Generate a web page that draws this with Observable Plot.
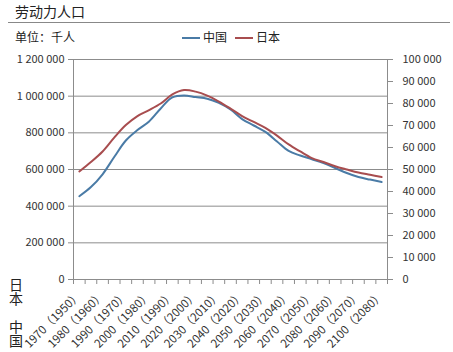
<!DOCTYPE html>
<html><head><meta charset="utf-8">
<script src="https://cdn.jsdelivr.net/npm/d3@7"></script>
<script src="https://cdn.jsdelivr.net/npm/@observablehq/plot@0.6"></script>
<style>
body{margin:0;background:#fff;font-family:"Noto Sans CJK SC","Noto Sans",sans-serif;}
#wrap{position:relative;width:453px;height:352px;overflow:hidden;background:#fff;}
.abs{position:absolute;white-space:nowrap;color:#222;line-height:1;}
</style></head><body><div id="wrap"></div>
<script>
const title = "劳动力人口";
const unitLabel = "单位：千人";
const seriesNames = ["中国", "日本"];
const seriesColors = ["#4a7ba6", "#a84d4f"];
const chinaYears = [1970,1975,1980,1985,1990,1995,2000,2005,2010,2015,2020,2025,2030,2035,2040,2045,2050,2055,2060,2065,2070,2075,2080,2085,2090,2095,2100];
const japanYears = [1950,1955,1960,1965,1970,1975,1980,1985,1990,1995,2000,2005,2010,2015,2020,2025,2030,2035,2040,2045,2050,2055,2060,2065,2070,2075,2080];
// thousands of people; China on left axis, Japan on right axis
const chinaLabor = [454000,504000,574000,668000,758000,815000,862000,933000,993000,1004000,995000,986000,963000,927000,875000,840000,805000,753000,701000,676000,656000,635000,608000,581000,559000,545000,532000];
const japanLabor = [49100,53400,58200,64500,70200,74300,77000,80000,84100,86100,85400,83600,80900,77700,74300,71600,68900,65400,61400,58200,55200,53400,51500,50000,48600,47600,46600];
const leftTicks = [0,200000,400000,600000,800000,1000000,1200000];
const rightTicks = [0,10000,20000,30000,40000,50000,60000,70000,80000,90000,100000];
const labelYears = [1970,1980,1990,2000,2010,2020,2030,2040,2050,2060,2070,2080,2090,2100];
const yearOffset = 20; // Japan year = China year - 20

const ratio = leftTicks[leftTicks.length-1] / rightTicks[rightTicks.length-1];
const fmt = d3.formatLocale({thousands:" ", grouping:[3], decimal:".", currency:["",""]}).format(",");
const rows = chinaYears.map((y,i)=>({x:y, v:chinaLabor[i], s:seriesNames[0]}))
  .concat(japanYears.map((y,i)=>({x:y+yearOffset, v:japanLabor[i]*ratio, s:seriesNames[1]})));
const step = chinaYears[1]-chinaYears[0];
const x0 = chinaYears[0]-step/2, x1 = chinaYears[chinaYears.length-1]+step/2;
const bounds = d3.range(chinaYears.length+1).map(i=>x0+i*step);
const axisGray = "#8c8c8c";
const font = '"Noto Sans CJK SC","Noto Sans",sans-serif';

const plot = Plot.plot({
  width:453, height:352,
  marginTop:59, marginBottom:73, marginLeft:73, marginRight:66,
  style:{fontFamily:font, fontSize:"11px", color:"#333", background:"transparent", overflow:"visible"},
  x:{domain:[x0,x1]},
  y:{domain:[0,leftTicks[leftTicks.length-1]]},
  color:{domain:seriesNames, range:seriesColors},
  marks:[
    Plot.gridY(leftTicks, {stroke:axisGray, strokeOpacity:1}),
    Plot.ruleX([x0, x1], {stroke:axisGray}),
    Plot.axisY(leftTicks, {anchor:"left", tickFormat:fmt, tickSize:5, tickPadding:4, stroke:axisGray, fill:"#333", label:null}),
    Plot.axisY(rightTicks.map(d=>d*ratio), {anchor:"right", tickFormat:d=>fmt(Math.round(d/ratio)), tickSize:5, tickPadding:10, stroke:axisGray, fill:"#333", textAnchor:"start", label:null}),
    Plot.axisX(bounds, {tickSize:5, tickFormat:()=>"", stroke:axisGray, label:null}),
    Plot.axisX(labelYears, {tickSize:0, tickPadding:14, tickRotate:-45, fontSize:11.5, tickFormat:d=>`${d}（${d-yearOffset}）`, fill:"#333", label:null}),
    Plot.line(rows, {x:"x", y:"v", z:"s", stroke:"s", strokeWidth:2, curve:"catmull-rom"})
  ]
});
const wrap = document.getElementById("wrap");
plot.style.position = "absolute"; plot.style.left = "0px"; plot.style.top = "0px";
wrap.appendChild(plot);

function addText(txt, left, top, size, extra){
  const d = document.createElement("div");
  d.className = "abs"; d.textContent = txt;
  d.style.left = left+"px"; d.style.top = top+"px"; d.style.fontSize = size+"px";
  if (extra) Object.assign(d.style, extra);
  wrap.appendChild(d); return d;
}
addText(title, 15, 4, 14);
const hr = document.createElement("div");
Object.assign(hr.style, {position:"absolute", left:"8px", top:"22px", width:"442px", height:"1px", background:"#888"});
wrap.appendChild(hr);
addText(unitLabel, 15, 31, 12);
// legend
const legPos = [182, 235];
seriesNames.forEach((n,i)=>{
  const ln = document.createElement("div");
  Object.assign(ln.style, {position:"absolute", left:legPos[i]+"px", top:"37px", width:"18px", height:"2px", background:seriesColors[i]});
  wrap.appendChild(ln);
  addText(n, legPos[i]+21, 31, 12);
});
// row labels for the two year series
addText(seriesNames[1], 8, 278, 14, {writingMode:"vertical-rl", lineHeight:"15px"});
addText(seriesNames[0], 8, 320, 14, {writingMode:"vertical-rl", lineHeight:"15px"});
</script></body></html>
